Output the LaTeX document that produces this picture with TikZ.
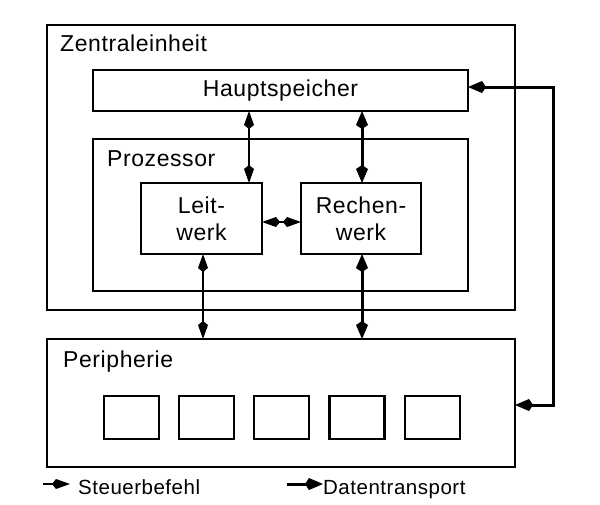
\documentclass[tikz,border=0pt]{standalone}
\usepackage{fontspec}
\setmainfont{Liberation Sans}[LetterSpace=2.5]
\usetikzlibrary{arrows.meta,positioning}
\pgfdeclarelayer{edgelayer}
\pgfdeclarelayer{nodelayer}
\pgfsetlayers{edgelayer,nodelayer,main}
\tikzset{
	Ctl/.tip={Kite[length=18pt,width=10pt,inset=4pt]},
	Dat/.tip={Kite[length=18pt,width=12pt,inset=4pt]}
}
\tikzstyle{none}=[inner sep=0mm]
\tikzstyle{outer box}=[draw=black,line width=1.5pt,inner sep=0pt]
\tikzstyle{inner box}=[draw=black,line width=2.4pt,inner sep=0pt,font=\fontsize{23}{27}\selectfont,align=center]
\tikzstyle{lbl}=[inner sep=0pt,anchor=base west,font=\fontsize{23}{27}\selectfont]
\tikzstyle{key}=[lbl,font=\fontsize{20.5}{24}\selectfont]
\tikzstyle{ctl}=[line width=1.5pt]
\tikzstyle{dat}=[line width=3pt]

\begin{document}
\begin{tikzpicture}[x=1pt,y=-1pt]
	\useasboundingbox (0,0) rectangle (600,504);
	\begin{pgfonlayer}{nodelayer}
		\node [style=outer box, minimum width=468pt, minimum height=285pt] (zentral) at (281, 167.5) {};
		\node [style=lbl] (zl) at (60, 51) {Zentraleinheit};
		\node [style=inner box, minimum width=375pt, minimum height=41pt] (haupt) at (280.5, 90.5) {Hauptspeicher};
		\node [style=inner box, minimum width=375pt, minimum height=152pt] (proz) at (280.5, 215) {};
		\node [style=lbl] (pl) at (107, 166) {Prozessor};
		\node [style=inner box, minimum width=121pt, minimum height=71pt] (leit) at (201.5, 218.5) {Leit-\\werk};
		\node [style=inner box, minimum width=120pt, minimum height=71pt] (rechen) at (361, 218.5) {Rechen-\\werk};
		\node [style=outer box, minimum width=468pt, minimum height=128pt] (peri) at (281, 403) {};
		\node [style=lbl] (perl) at (63, 367) {Peripherie};
		\foreach \i/\x in {1/131.5, 2/206.5, 3/281.5, 4/357, 5/432.5}
			\node [style=inner box, minimum width=55pt, minimum height=43pt] (g\i) at (\x, 417.5) {};
		\node [style=key] (sl) at (78, 494) {Steuerbefehl};
		\node [style=key] (dl) at (323, 494) {Datentransport};

		\node [style=none] (h1) at (249, 111) {};
		\node [style=none] (l1) at (249, 183) {};
		\node [style=none] (h2) at (362, 111) {};
		\node [style=none] (r1) at (362, 183) {};
		\node [style=none] (l2) at (203, 254) {};
		\node [style=none] (p1) at (203, 339) {};
		\node [style=none] (r2) at (362, 254) {};
		\node [style=none] (p2) at (362, 339) {};
		\node [style=none] (l3) at (262, 222) {};
		\node [style=none] (r3) at (301, 222) {};
		\node [style=none] (h3) at (468, 87) {};
		\node [style=none] (p3) at (515, 405) {};
		\coordinate (c1) at (553, 87);
		\coordinate (c2) at (553, 405);
		\node [style=none] (s0) at (43, 484) {};
		\node [style=none] (s1) at (70, 484) {};
		\node [style=none] (d0) at (287, 484) {};
		\node [style=none] (d1) at (323, 484) {};
	\end{pgfonlayer}
	\begin{pgfonlayer}{edgelayer}
		\draw [style=ctl, Ctl-Ctl] (h1.center) to (l1.center);
		\draw [style=ctl, Ctl-Ctl] (l2.center) to (p1.center);
		\draw [style=ctl, Ctl-Ctl] (l3.center) to (r3.center);
		\draw [style=dat, Dat-Dat] (h2.center) to (r1.center);
		\draw [style=dat, Dat-Dat] (r2.center) to (p2.center);
		\draw [style=dat, Dat-Dat] (h3.center) -- (c1) -- (c2) -- (p3.center);
		\draw [style=ctl, -Ctl] (s0.center) to (s1.center);
		\draw [style=dat, -Dat] (d0.center) to (d1.center);
	\end{pgfonlayer}
\end{tikzpicture}
\end{document}
